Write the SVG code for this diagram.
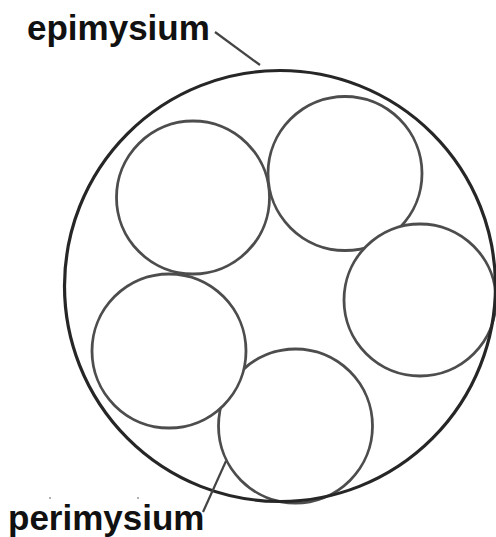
<svg xmlns="http://www.w3.org/2000/svg" width="496" height="537" viewBox="0 0 496 537">
<defs>
<filter id="soft" x="-10%" y="-10%" width="120%" height="120%"><feGaussianBlur stdDeviation="0.7"/></filter>
</defs>
<style>
.label{font-family:"Liberation Sans",Arial,sans-serif;font-weight:bold;font-size:35px;fill:#111}
.fasc{fill:#fff;stroke:#4d4d4d;stroke-width:2.8}
.epi{fill:none;stroke:#262626;stroke-width:3.2}
.lead{stroke:#444;stroke-width:2.2;fill:none}
</style>
<rect width="496" height="537" fill="#fff"/>
<g filter="url(#soft)">
<g id="fascicle1"><circle class="fasc" cx="193" cy="197.5" r="76.5"/></g>
<g id="fascicle2"><circle class="fasc" cx="345" cy="173.5" r="77"/></g>
<g id="fascicle3"><circle class="fasc" cx="420" cy="300" r="76"/></g>
<g id="fascicle5"><circle class="fasc" cx="295.5" cy="426" r="77"/></g>
<g id="fascicle4"><circle class="fasc" cx="169" cy="351" r="77"/></g>
<g id="epimysium-circle"><circle class="epi" cx="280" cy="286" r="215.5"/></g>
<g id="connectors">
<line class="lead" x1="215" y1="32" x2="260" y2="65"/>
<line class="lead" x1="226" y1="461" x2="203" y2="512"/>
</g>
</g>
<circle cx="50" cy="498" r="1" fill="#999"/>
<circle cx="138" cy="498" r="1" fill="#999"/>
<g id="label-epimysium"><text class="label" x="27" y="40">epimysium</text></g>
<g id="label-perimysium"><text class="label" x="8" y="530">perimysium</text></g>
</svg>
